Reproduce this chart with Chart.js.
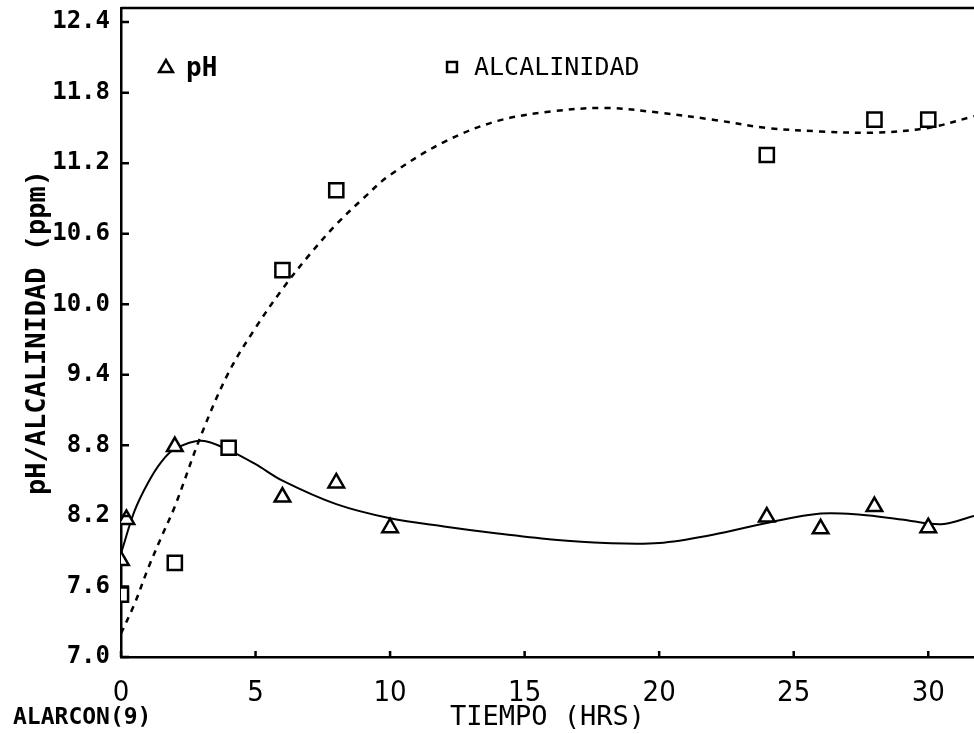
<!DOCTYPE html>
<html>
<head>
<meta charset="utf-8">
<script src="https://cdn.jsdelivr.net/npm/chart.js@4.4.1/dist/chart.umd.min.js"></script>
<style>
  html, body { margin: 0; padding: 0; background: #fff; }
  #wrap { width: 974px; height: 734px; }
</style>
</head>
<body>
<div id="wrap"><canvas id="chart" width="974" height="734"></canvas></div>
<script>
// measured points (time in hours)
const phHours = [0, 0.2, 2, 6, 8, 10, 24, 26, 28, 30];
const phValues = [7.82, 8.17, 8.79, 8.36, 8.48, 8.10, 8.19, 8.09, 8.28, 8.10];

const alkHours = [0, 2, 4, 6, 8, 24, 28, 30];
const alkValues = [7.53, 7.80, 8.78, 10.29, 10.97, 11.27, 11.57, 11.57];

// fitted curves
const phFitHours = [0, 0.5, 1, 1.5, 2, 3, 4, 5, 6, 8, 10, 12, 14, 16, 18, 20, 22, 24, 26, 27.5, 29, 30.5, 31.7];
const phFitValues = [7.88, 8.24, 8.48, 8.66, 8.77, 8.84, 8.76, 8.64, 8.50, 8.30, 8.18, 8.11, 8.05, 8.00, 7.97, 7.97, 8.04, 8.14, 8.22, 8.21, 8.17, 8.13, 8.20];

const alkFitHours = [0, 0.5, 1, 1.5, 2, 3, 4, 5, 6, 7, 8, 9, 10, 12, 14, 16, 18, 20, 22, 24, 26, 28, 30, 31.7];
const alkFitValues = [7.20, 7.45, 7.75, 8.02, 8.28, 8.90, 9.42, 9.80, 10.13, 10.42, 10.68, 10.90, 11.10, 11.38, 11.56, 11.64, 11.67, 11.63, 11.57, 11.50, 11.47, 11.46, 11.50, 11.60];

const xTicks = [0, 5, 10, 15, 20, 25, 30];
const yTicks = [7.0, 7.6, 8.2, 8.8, 9.4, 10.0, 10.6, 11.2, 11.8, 12.4];

const zip = (xs, ys) => xs.map((x, i) => ({ x: x, y: ys[i] }));

const MONO = "'DejaVu Sans Mono', 'Liberation Mono', monospace";

// inward tick marks, top frame line, legend and footnote
const decor = {
    id: 'decor',
    afterDraw(chart) {
        const ctx = chart.ctx;
        const area = chart.chartArea;
        const xs = chart.scales.x;
        const ys = chart.scales.y;
        ctx.save();
        ctx.strokeStyle = '#000';
        ctx.lineWidth = 2.5;
        ctx.beginPath();
        ctx.moveTo(area.left, area.top);
        ctx.lineTo(area.right, area.top);
        xTicks.forEach(v => {
            const px = xs.getPixelForValue(v);
            ctx.moveTo(px, area.bottom);
            ctx.lineTo(px, area.bottom - 6);
        });
        yTicks.forEach(v => {
            const py = ys.getPixelForValue(v);
            ctx.moveTo(area.left, py);
            ctx.lineTo(area.left + 8, py);
        });
        ctx.stroke();

        ctx.fillStyle = '#fff';
        ctx.lineWidth = 2.5;
        Chart.helpers.drawPoint(ctx, { pointStyle: 'triangle', radius: 8, borderWidth: 2.5, rotation: 0 }, 166, 68);
        Chart.helpers.drawPoint(ctx, { pointStyle: 'rect', radius: 7, borderWidth: 2.5, rotation: 0 }, 452, 67);

        ctx.fillStyle = '#000';
        ctx.textBaseline = 'middle';
        ctx.textAlign = 'left';
        ctx.font = 'bold 26px ' + MONO;
        ctx.fillText('pH', 186, 69);
        ctx.font = '25px ' + MONO;
        ctx.fillText('ALCALINIDAD', 474, 68);
        ctx.font = 'bold 23px ' + MONO;
        ctx.fillText('ALARCON(9)', 13, 718);
        ctx.restore();
    }
};

new Chart(document.getElementById('chart'), {
    type: 'scatter',
    data: {
        datasets: [
            {
                label: 'pH',
                data: zip(phHours, phValues),
                pointStyle: 'triangle',
                pointRadius: 9,
                borderWidth: 2.5,
                borderColor: '#000',
                backgroundColor: '#fff'
            },
            {
                label: 'ALCALINIDAD',
                data: zip(alkHours, alkValues),
                pointStyle: 'rect',
                pointRadius: 10,
                borderWidth: 2.5,
                borderColor: '#000',
                backgroundColor: '#fff'
            },
            {
                label: 'pH ajuste',
                data: zip(phFitHours, phFitValues),
                showLine: true,
                pointRadius: 0,
                borderColor: '#000',
                borderWidth: 2,
                tension: 0.35
            },
            {
                label: 'alcalinidad ajuste',
                data: zip(alkFitHours, alkFitValues),
                showLine: true,
                pointRadius: 0,
                borderColor: '#000',
                borderWidth: 2.5,
                borderDash: [6, 6],
                tension: 0.35
            }
        ]
    },
    options: {
        responsive: false,
        animation: false,
        devicePixelRatio: 1,
        layout: { autoPadding: false, padding: { top: 8, right: 0, left: 0, bottom: 0 } },
        plugins: {
            legend: { display: false },
            tooltip: { enabled: false }
        },
        scales: {
            x: {
                type: 'linear',
                min: 0,
                max: 31.7,
                afterBuildTicks: s => { s.ticks = xTicks.map(v => ({ value: v })); },
                afterFit: s => { s.height = 77; s.paddingLeft = 0; s.paddingRight = 0; },
                grid: { display: false, drawTicks: false },
                border: { display: true, color: '#000', width: 2.5 },
                ticks: {
                    color: '#000',
                    padding: 19,
                    font: { family: "'Liberation Sans Narrow', 'DejaVu Sans Condensed', sans-serif", size: 29 },
                    callback: v => String(v)
                },
                title: {
                    display: true,
                    text: 'TIEMPO (HRS)',
                    color: '#000',
                    padding: 0,
                    font: { family: MONO, size: 27 }
                }
            },
            y: {
                min: 7.0,
                max: 12.52,
                afterBuildTicks: s => { s.ticks = yTicks.map(v => ({ value: v })); },
                afterFit: s => { s.width = 121; s.paddingTop = 0; s.paddingBottom = 0; },
                grid: { display: false, drawTicks: false },
                border: { display: true, color: '#000', width: 2.5 },
                ticks: {
                    color: '#000',
                    padding: 11,
                    font: { family: MONO, size: 24, weight: 'bold' },
                    callback: v => Number(v).toFixed(1)
                },
                title: {
                    display: true,
                    text: 'pH/ALCALINIDAD (ppm)',
                    color: '#000',
                    padding: { top: 22, bottom: 0 },
                    font: { family: MONO, size: 27, weight: 'bold' }
                }
            }
        }
    },
    plugins: [decor]
});
</script>
</body>
</html>
